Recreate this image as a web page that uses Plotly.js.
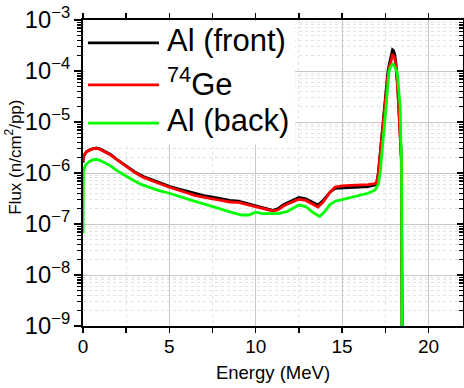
<!DOCTYPE html>
<html>
<head>
<meta charset="utf-8">
<script src="https://cdn.plot.ly/plotly-3.0.1.min.js"></script>
<style>html,body{margin:0;padding:0;background:#fff;}#chart{width:464px;height:388px;}</style>
</head>
<body>
<div id="chart"></div>
<script>
// ---- data ----
var seriesNames = ["Al (front)", "<sup>74</sup>Ge", "Al (back)"];
var seriesColors = ["#000000", "#ff0000", "#00ff00"];

var energyFront = [0, 0.03, 0.2, 0.4, 0.6, 0.8, 1.0, 1.3, 1.6, 2.0, 2.5, 3.0, 3.5, 4.0, 4.5, 5.0, 5.5, 6.0, 6.5, 7.0, 7.5, 8.0, 8.5, 9.0, 9.5, 10.0, 10.5, 11.0, 11.3, 11.6, 12.0, 12.5, 12.9, 13.3, 13.6, 13.9, 14.3, 14.6, 15.0, 15.5, 16.0, 16.5, 16.9, 17.0, 17.1, 17.18, 17.26, 17.35, 17.43, 17.53, 17.64, 17.72, 17.8, 17.86, 17.92, 17.98, 18.05, 18.11, 18.17, 18.22, 18.28, 18.33, 18.38, 18.43, 18.47];
var fluxFront = [1.6e-6, 2.1e-6, 2.6e-6, 2.85e-6, 3.0e-6, 3.1e-6, 2.95e-6, 2.6e-6, 2.3e-6, 1.8e-6, 1.35e-6, 1.05e-6, 8.5e-7, 7.3e-7, 6.3e-7, 5.5e-7, 4.9e-7, 4.4e-7, 4.0e-7, 3.6e-7, 3.35e-7, 3.1e-7, 2.9e-7, 2.8e-7, 2.5e-7, 2.25e-7, 2.05e-7, 1.85e-7, 2.0e-7, 2.4e-7, 2.8e-7, 3.3e-7, 3.1e-7, 2.6e-7, 2.35e-7, 2.9e-7, 4.2e-7, 5.0e-7, 5.1e-7, 5.1e-7, 5.2e-7, 5.4e-7, 5.8e-7, 6.3e-7, 1.0e-6, 2.0e-6, 4.4e-6, 1.0e-5, 2.0e-5, 4.5e-5, 9.0e-5, 1.3e-4, 1.75e-4, 2.3e-4, 2.6e-4, 2.5e-4, 2.1e-4, 1.5e-4, 9.0e-5, 5.0e-5, 2.0e-5, 1.0e-5, 5.0e-6, 2.0e-6, 1e-9];

var energyGe = [0, 0.03, 0.2, 0.4, 0.6, 0.8, 1.0, 1.3, 1.6, 2.0, 2.5, 3.0, 3.5, 4.0, 4.5, 5.0, 5.5, 6.0, 6.5, 7.0, 7.5, 8.0, 8.5, 9.0, 9.5, 10.0, 10.5, 11.0, 11.3, 11.6, 12.0, 12.5, 12.9, 13.3, 13.6, 13.9, 14.3, 14.6, 15.0, 15.5, 16.0, 16.5, 16.9, 17.0, 17.1, 17.18, 17.26, 17.35, 17.43, 17.53, 17.64, 17.72, 17.8, 17.86, 17.92, 17.98, 18.05, 18.11, 18.17, 18.22, 18.28, 18.33, 18.38, 18.43, 18.47];
var fluxGe = [1.7e-6, 2.2e-6, 2.6e-6, 2.85e-6, 3.0e-6, 3.05e-6, 2.9e-6, 2.55e-6, 2.25e-6, 1.78e-6, 1.32e-6, 1.02e-6, 8.2e-7, 7.0e-7, 6.1e-7, 5.3e-7, 4.6e-7, 4.1e-7, 3.6e-7, 3.3e-7, 3.1e-7, 2.9e-7, 2.7e-7, 2.65e-7, 2.4e-7, 2.2e-7, 2.0e-7, 1.8e-7, 1.9e-7, 2.25e-7, 2.6e-7, 3.05e-7, 2.9e-7, 2.4e-7, 2.15e-7, 2.7e-7, 4.2e-7, 5.3e-7, 5.6e-7, 5.7e-7, 5.8e-7, 5.9e-7, 6.2e-7, 6.6e-7, 1.0e-6, 1.9e-6, 3.8e-6, 8.5e-6, 1.7e-5, 3.8e-5, 7.5e-5, 1.1e-4, 1.45e-4, 1.85e-4, 2.06e-4, 2.0e-4, 1.75e-4, 1.3e-4, 8.0e-5, 4.5e-5, 1.8e-5, 9.0e-6, 4.5e-6, 1.8e-6, 1e-9];

var energyBack = [0, 0.02, 0.15, 0.4, 0.6, 0.8, 1.0, 1.3, 1.6, 1.9, 2.5, 2.9, 3.4, 3.9, 4.4, 4.9, 5.4, 5.8, 6.3, 6.8, 7.2, 7.7, 8.2, 8.7, 9.2, 9.6, 10.0, 10.4, 10.8, 11.3, 11.8, 12.2, 12.5, 12.9, 13.3, 13.7, 14.0, 14.3, 14.6, 15.0, 15.3, 15.7, 16.1, 16.5, 16.9, 17.1, 17.2, 17.3, 17.4, 17.48, 17.55, 17.63, 17.7, 17.77, 17.85, 17.92, 17.99, 18.06, 18.13, 18.2, 18.27, 18.32, 18.36, 18.4, 18.44, 18.46];
var fluxBack = [6.5e-8, 1.1e-6, 1.45e-6, 1.7e-6, 1.82e-6, 1.85e-6, 1.75e-6, 1.55e-6, 1.38e-6, 1.15e-6, 8.5e-7, 7.2e-7, 5.9e-7, 5.1e-7, 4.5e-7, 4.1e-7, 3.6e-7, 3.2e-7, 2.9e-7, 2.6e-7, 2.35e-7, 2.1e-7, 1.85e-7, 1.65e-7, 1.5e-7, 1.5e-7, 1.7e-7, 1.6e-7, 1.6e-7, 1.6e-7, 1.75e-7, 2.05e-7, 2.35e-7, 2.2e-7, 1.7e-7, 1.4e-7, 1.75e-7, 2.4e-7, 2.8e-7, 3.0e-7, 3.2e-7, 3.4e-7, 3.7e-7, 4.0e-7, 4.6e-7, 6.0e-7, 1.0e-6, 2.2e-6, 4.4e-6, 1.0e-5, 2.0e-5, 4.5e-5, 9.0e-5, 1.15e-4, 1.3e-4, 1.37e-4, 1.33e-4, 1.2e-4, 1.05e-4, 9.0e-5, 5.0e-5, 3.0e-5, 2.0e-5, 4.4e-6, 2.0e-6, 1e-9];

var xTickVals = [0, 5, 10, 15, 20];
var legendText = ["Al (front)", "<sup>74</sup>Ge", "Al (back)"];
var xTitle = "Energy (MeV)";
var yTitle = "Flux (n/cm<sup>2</sup>/pp)";

// ---- chart ----
var FONT = "Liberation Sans, Arial, sans-serif";
var traces = [
  {x: energyFront, y: fluxFront, name: seriesNames[0], mode: "lines", line: {color: seriesColors[0], width: 2.8}, xaxis: "x", yaxis: "y"},
  {x: energyGe, y: fluxGe, name: seriesNames[1], mode: "lines", line: {color: seriesColors[1], width: 2.8}, xaxis: "x", yaxis: "y"},
  {x: energyBack, y: fluxBack, name: seriesNames[2], mode: "lines", line: {color: seriesColors[2], width: 2.8}, xaxis: "x", yaxis: "y2"}
];

var legendY = [0.925, 0.788, 0.663];
var shapes = [
  {type: "rect", xref: "paper", yref: "paper", x0: 0.004, x1: 0.558, y0: 0.592, y1: 0.996, fillcolor: "#ffffff", line: {width: 0}, layer: "above"}
];
var annotations = [];
for (var i = 0; i < 3; i++) {
  shapes.push({type: "line", xref: "paper", yref: "paper", x0: 0.013, x1: 0.2, y0: legendY[i], y1: legendY[i], line: {color: seriesColors[i], width: 2.8}, layer: "above"});
  annotations.push({xref: "paper", yref: "paper", x: 0.216, y: legendY[i] + 0.008, xanchor: "left", yanchor: "middle", text: legendText[i], showarrow: false, font: {family: FONT, size: 31, color: "#000"}});
}
// y-axis title (placed slightly above the axis centre, as in the reference)
annotations.push({xref: "paper", yref: "paper", x: -0.184, y: 0.55, xanchor: "center", yanchor: "middle", textangle: -90, text: yTitle, showarrow: false, font: {family: FONT, size: 17, color: "#000"}});

var layout = {
  width: 464, height: 388,
  margin: {l: 83, r: 1, t: 20, b: 62},
  paper_bgcolor: "#ffffff", plot_bgcolor: "#ffffff",
  showlegend: false,
  font: {family: FONT, color: "#000"},
  xaxis: {
    range: [0, 22], tickvals: xTickVals, ticktext: xTickVals.map(String),
    ticks: "outside", ticklen: 5, tickwidth: 1.5, tickcolor: "#000", ticklabelstandoff: -3,
    showline: true, linewidth: 2, linecolor: "#000", mirror: "ticks",
    showgrid: true, gridcolor: "#c8c8c8", gridwidth: 1, zeroline: false,
    minor: {dtick: 2.5, tick0: 0, ticks: "outside", ticklen: 5, tickwidth: 1.5, tickcolor: "#000", showgrid: true, gridcolor: "#e2e2e2", griddash: "dot", gridwidth: 1},
    tickfont: {family: FONT, size: 19, color: "#000"},
    title: {text: xTitle, font: {family: FONT, size: 18.5, color: "#000"}, standoff: 10}
  },
  yaxis: {
    type: "log", range: [-9, -3], dtick: 1, exponentformat: "power",
    ticks: "outside", ticklen: 7, tickwidth: 1.5, tickcolor: "#000",
    showline: true, linewidth: 2, linecolor: "#000", mirror: false,
    showgrid: true, gridcolor: "#c8c8c8", gridwidth: 1, zeroline: false,
    minor: {ticks: "outside", ticklen: 4, tickwidth: 1.2, tickcolor: "#000", showgrid: true, gridcolor: "#e2e2e2", griddash: "dot", gridwidth: 1},
    tickfont: {family: FONT, size: 19, color: "#000"}
  },
  yaxis2: {
    type: "log", range: [-9, -3], dtick: 1, overlaying: "y", side: "right", anchor: "x",
    ticks: "inside", ticklen: 6, tickwidth: 1.5, tickcolor: "#000",
    showline: true, linewidth: 2, linecolor: "#000", showticklabels: false,
    showgrid: false, zeroline: false,
    minor: {ticks: "inside", ticklen: 4, tickwidth: 1.2, tickcolor: "#000", showgrid: false}
  },
  shapes: shapes,
  annotations: annotations
};

Plotly.newPlot("chart", traces, layout, {staticPlot: true, displayModeBar: false});
</script>
</body>
</html>
